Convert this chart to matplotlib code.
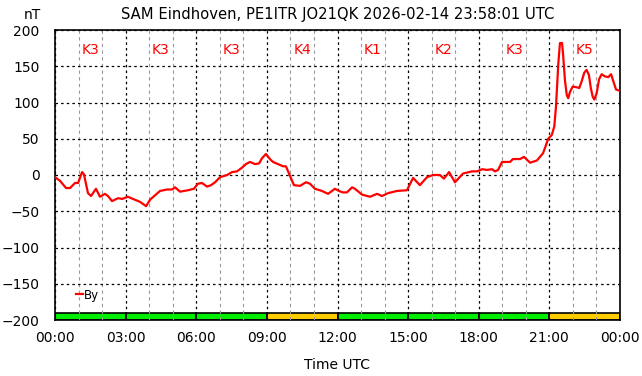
import numpy as np
import matplotlib
matplotlib.use("Agg")
import matplotlib.pyplot as plt
from matplotlib.ticker import MultipleLocator

# By component, hours UTC vs nT
hours = [0.0, 0.21, 0.47, 0.64, 0.85, 0.98, 1.15, 1.23, 1.40, 1.53, 1.74, 1.91,
         2.12, 2.25, 2.42, 2.68, 2.85, 3.10, 3.31, 3.61, 3.87, 4.04, 4.25, 4.46,
         4.76, 4.97, 5.10, 5.31, 5.65, 5.90, 6.07, 6.24, 6.46, 6.63, 6.80, 7.01,
         7.31, 7.52, 7.73, 7.94, 8.11, 8.28, 8.50, 8.67, 8.79, 8.96, 9.13, 9.26,
         9.47, 9.69, 9.81, 9.98, 10.15, 10.41, 10.66, 10.83, 11.04, 11.34, 11.60,
         11.89, 12.06, 12.23, 12.40, 12.62, 12.74, 13.04, 13.38, 13.68, 13.89,
         14.15, 14.53, 14.95, 15.21, 15.50, 15.80, 16.06, 16.35, 16.52, 16.74,
         16.99, 17.33, 17.71, 17.93, 18.14, 18.35, 18.56, 18.69, 18.82, 18.99,
         19.33, 19.45, 19.75, 19.92, 20.18, 20.47, 20.73, 20.81, 20.95, 21.10,
         21.21, 21.28, 21.38, 21.45, 21.54, 21.59, 21.66, 21.74, 21.80, 21.88,
         21.99, 22.16, 22.27, 22.37, 22.48, 22.58, 22.68, 22.76, 22.84, 22.91,
         23.01, 23.11, 23.22, 23.36, 23.50, 23.62, 23.72, 23.83, 24.0]
by_nt = [-3, -8, -18, -18, -11, -11, 4, 1, -25, -29, -19, -30,
         -26, -29, -36, -32, -33, -30, -33, -37, -43, -34, -28, -22,
         -20, -20, -17, -23, -21, -19, -12, -11, -16, -14, -10, -3,
         0, 4, 5, 10, 15, 18, 15, 16, 23, 29, 22, 18,
         15, 12, 12, -1, -14, -15, -10, -12, -19, -22, -26,
         -19, -22, -24, -24, -17, -19, -27, -30, -26, -29,
         -25, -22, -21, -4, -14, -3, 0, 0, -5, 4,
         -10, 2, 5, 5, 8, 7, 8, 5, 7, 18,
         18, 22, 22, 25, 17, 20, 30, 37, 50, 55,
         67, 94, 154, 182, 182, 163, 131, 110, 106, 115,
         122, 121, 120, 129, 141, 145, 138, 120, 108, 104,
         113, 132, 139, 136, 135, 139, 129, 118, 116]

# K index per 3-hour block
k_start = [0, 3, 6, 9, 12, 15, 18, 21]
k_index = [3, 3, 3, 4, 1, 2, 3, 5]
tick_labels = ["00:00", "03:00", "06:00", "09:00", "12:00",
               "15:00", "18:00", "21:00", "00:00"]

fig = plt.figure(figsize=(6.42, 3.76), dpi=100)
ax = fig.add_axes([55 / 642, 56 / 376, 565 / 642, 290 / 376])

# K bars at the bottom
for s, k in zip(k_start, k_index):
    col = "#00ee00" if k < 4 else "#ffcc00"
    ax.bar(s, 9, width=3, bottom=-200, align="edge", color=col,
           edgecolor="black", linewidth=1.2, zorder=2)
    ax.text(s + 1.5, 172, "K%d" % k, color="red", ha="center", va="center",
            fontsize=10, zorder=4)

ax.plot(hours, by_nt, color="red", linewidth=1.6, label="By", zorder=3)

ax.set_xlim(0, 24)
ax.set_ylim(-200, 200)
ax.xaxis.set_minor_locator(MultipleLocator(1))
ax.yaxis.set_major_locator(MultipleLocator(50))
ax.set_xticks(range(0, 25, 3))
ax.set_xticklabels(tick_labels)
ax.tick_params(which="both", length=0, labelsize=10, pad=8)
ax.tick_params(axis="y", pad=11)

ax.grid(which="major", color="black", linestyle=(0, (2, 2.5)), linewidth=0.9, zorder=1)
ax.grid(which="minor", axis="x", color="#999999", linestyle=(0, (3, 3)),
        linewidth=0.8, zorder=1)
ax.set_axisbelow(False)
for sp in ax.spines.values():
    sp.set_linewidth(1.2)

ax.set_title("SAM Eindhoven, PE1ITR JO21QK 2026-02-14 23:58:01 UTC",
             fontsize=10.6, pad=8)
ax.set_xlabel("Time UTC", fontsize=10, labelpad=9)
fig.text(32 / 642, 1 - 15 / 376, "nT", ha="center", va="center", fontsize=10)

leg = ax.legend(loc="lower left", bbox_to_anchor=(0.022, 0.035), frameon=False,
                fontsize=8.5, handlelength=0.6, handletextpad=0.1,
                borderpad=0.2)

fig.savefig("out.png", dpi=100)
